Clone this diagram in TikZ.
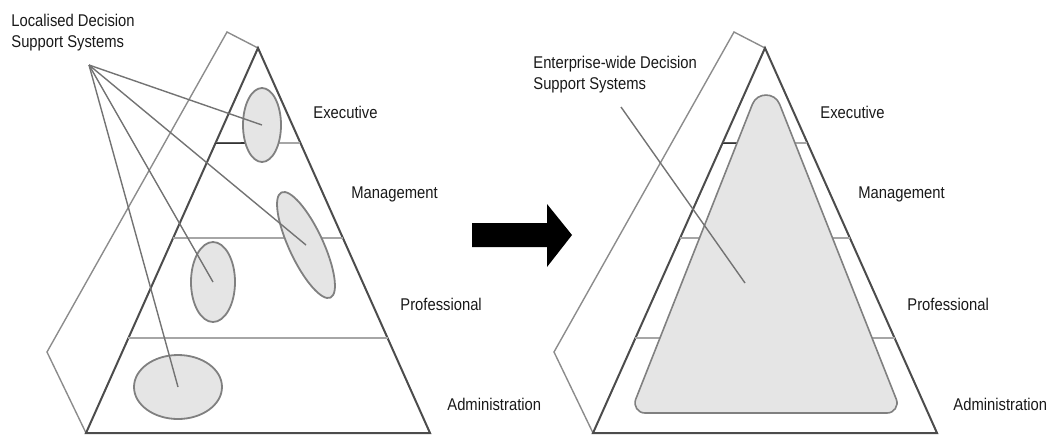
\documentclass[tikz,border=0pt]{standalone}
\usepackage{fontspec}
\setmainfont{Liberation Sans}[FakeStretch=0.87]
\usetikzlibrary{shapes.geometric,calc}

\begin{document}
\begin{tikzpicture}[x=0.5pt, y=-0.5pt,
	every node/.style={inner sep=0pt, text=black!90, font=\fontsize{8.5}{10.5}\selectfont},
	front/.style={draw=black!70, line width=1pt},
	back/.style={draw=black!45, line width=0.7pt},
	level/.style={draw=black!35, line width=0.8pt},
	bubble/.style={ellipse, draw=black!50, line width=0.9pt, fill=black!10},
	pointer/.style={draw=black!55, line width=0.7pt},
	levelname/.style={anchor=base west},
	callout/.style={anchor=west, align=left}]
	\useasboundingbox (0,0) rectangle (1049,435);

	\coordinate (la) at (258,48);
	\coordinate (ll) at (86,433);
	\coordinate (lr) at (430,433);
	\draw[back] (la) -- (227,32) -- (47,352) -- (ll);
	\draw[front] (ll) -- (la) -- (lr) -- cycle;
	\draw[level] ($(la)!0.247!(ll)$) -- ($(la)!0.247!(lr)$);
	\draw[level, draw=black!80] ($(la)!0.247!(ll)$) -- (262,143);
	\draw[level] ($(la)!0.494!(ll)$) -- ($(la)!0.494!(lr)$);
	\draw[level] ($(la)!0.753!(ll)$) -- ($(la)!0.753!(lr)$);

	\node[bubble, minimum width=19pt, minimum height=37pt] (exec) at (262,125) {};
	\node[bubble, minimum width=17pt, minimum height=58pt, rotate=25] (mgmt) at (306,245) {};
	\node[bubble, minimum width=22pt, minimum height=40pt] (prof) at (213,282) {};
	\node[bubble, minimum width=44pt, minimum height=32pt] (admin) at (178,387) {};

	\node[callout] (local) at (11,32.5) {Localised Decision\\Support Systems};
	\coordinate (hub) at (89,65);
	\draw[pointer] (hub) -- (exec.center);
	\draw[pointer] (hub) -- (mgmt.center);
	\draw[pointer] (hub) -- (prof.center);
	\draw[pointer] (hub) -- (admin.center);

	\node[levelname] (lexe) at (313,118) {Executive};
	\node[levelname] (lman) at (351,198) {Management};
	\node[levelname] (lpro) at (400,310) {Professional};
	\node[levelname] (ladm) at (447,410) {Administration};

	\fill[black] (472,223) -- (547,223) -- (547,204) -- (572,235) -- (547,267) -- (547,247) -- (472,247) -- cycle;

	\coordinate (ra) at (765,48);
	\coordinate (rl) at (593,433);
	\coordinate (rr) at (937,433);
	\draw[back] (ra) -- (734,32) -- (554,352) -- (rl);
	\draw[front] (rl) -- (ra) -- (rr) -- cycle;
	\draw[level] ($(ra)!0.247!(rl)$) -- ($(ra)!0.247!(rr)$);
	\draw[level, draw=black!80] ($(ra)!0.247!(rl)$) -- (765,143);
	\draw[level] ($(ra)!0.494!(rl)$) -- ($(ra)!0.494!(rr)$);
	\draw[level] ($(ra)!0.753!(rl)$) -- ($(ra)!0.753!(rr)$);

	\draw[draw=black!50, line width=0.8pt, fill=black!10]
		(752.4,104.2) .. controls (757.25,91.97) and (774.75,91.97) .. (779.6,104.2)
		-- (896.3,399.3) .. controls (898.9,405.9) and (894.1,413) .. (887,413)
		-- (645,413) .. controls (637.9,413) and (633.1,405.9) .. (635.7,399.3) -- cycle;

	\node[callout] (enterprise) at (533,74.5) {Enterprise-wide Decision\\Support Systems};
	\coordinate (start) at (621,107);
	\coordinate (whole) at (745,283);
	\draw[pointer] (start) -- (whole);

	\node[levelname] (rexe) at (820,118) {Executive};
	\node[levelname] (rman) at (858,198) {Management};
	\node[levelname] (rpro) at (907,310) {Professional};
	\node[levelname] (radm) at (953,410) {Administration};
\end{tikzpicture}
\end{document}
